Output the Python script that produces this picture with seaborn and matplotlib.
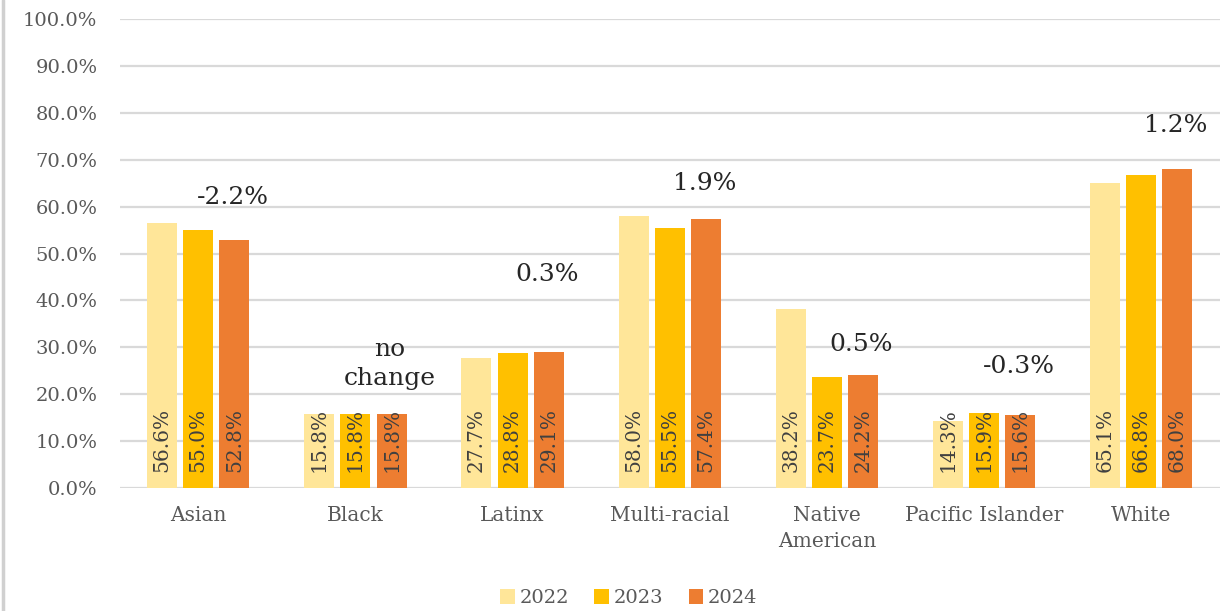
import matplotlib
matplotlib.use("Agg")
import matplotlib.pyplot as plt
from matplotlib.lines import Line2D
from matplotlib.patches import Patch
import seaborn as sns
import pandas as pd

# Share of students by group, per year (percent)
groups = ["Asian", "Black", "Latinx", "Multi-racial", "Native\nAmerican",
          "Pacific Islander", "White"]
years = ["2022", "2023", "2024"]
values_2022 = [56.6, 15.8, 27.7, 58.0, 38.2, 14.3, 65.1]
values_2023 = [55.0, 15.8, 28.8, 55.5, 23.7, 15.9, 66.8]
values_2024 = [52.8, 15.8, 29.1, 57.4, 24.2, 15.6, 68.0]
# Year-over-year change noted above each group
change_labels = ["-2.2%", "no\nchange", "0.3%", "1.9%", "0.5%", "-0.3%", "1.2%"]

# Vertical placement of the change notes (percent axis units)
note_heights = [62.0, 26.4, 45.6, 65.0, 30.5, 26.0, 77.2]

palette = {"2022": "#FFE699", "2023": "#FFC000", "2024": "#ED7D31"}

df = pd.DataFrame({
    "group": groups * 3,
    "year": [y for y in years for _ in groups],
    "value": values_2022 + values_2023 + values_2024,
})

sns.set_theme(style="white")
plt.rcParams["font.family"] = ["DejaVu Serif", "DejaVu Sans"]

fig = plt.figure(figsize=(12.21, 6.11), dpi=100)
ax = fig.add_axes([0.098, 0.2013, 0.901, 0.7676])

sns.barplot(data=df, x="group", y="value", hue="year", palette=palette,
            width=0.69, gap=0.17, saturation=1, legend=False, ax=ax,
            linewidth=0, edgecolor="none", zorder=2)

ax.set_ylim(0, 100)
ax.set_xlim(-0.5, len(groups) - 0.5)
ax.set_yticks(range(0, 101, 10))
ax.set_yticklabels([f"{t:.1f}%" for t in range(0, 101, 10)])
ax.yaxis.grid(True, color="#D9D9D9", linewidth=1.6, zorder=0)
ax.set_axisbelow(True)
for s in ax.spines.values():
    s.set_visible(False)
ax.set_xlabel("")
ax.set_ylabel("")
ax.tick_params(axis="y", length=0, pad=16, labelsize=14, labelcolor="#595959")
ax.tick_params(axis="x", length=0, pad=13, labelsize=14.5, labelcolor="#595959")
for lbl in ax.get_xticklabels():
    lbl.set_linespacing(1.45)

# Rotated value labels at the base of each bar
for container, vals in zip(ax.containers, [values_2022, values_2023, values_2024]):
    for bar, v in zip(container, vals):
        cx = bar.get_x() + bar.get_width() / 2
        ax.text(cx, 3.4, f"{v:.1f}%", rotation=90, ha="center", va="bottom",
                fontsize=14.5, color="#404040", zorder=3)

# Change notes above each group
for i, (lab, h) in enumerate(zip(change_labels, note_heights)):
    ax.text(i + 0.22, h, lab, ha="center", va="center", fontsize=18,
            color="#262626", linespacing=1.3, zorder=4)

handles = [Patch(facecolor=palette[y], edgecolor="none") for y in years]
fig.legend(handles, years, loc="center", bbox_to_anchor=(0.515, 0.021),
           ncol=3, frameon=False, fontsize=14, handlelength=0.75,
           handleheight=0.75, handletextpad=0.25, columnspacing=1.3,
           labelcolor="#595959")

# Thin frame line along the left edge
fig.add_artist(Line2D([0.0025, 0.0025], [0, 1], transform=fig.transFigure,
                      color="#D0D0D0", linewidth=2.5))

fig.savefig("out.png", dpi=100, facecolor="white")
